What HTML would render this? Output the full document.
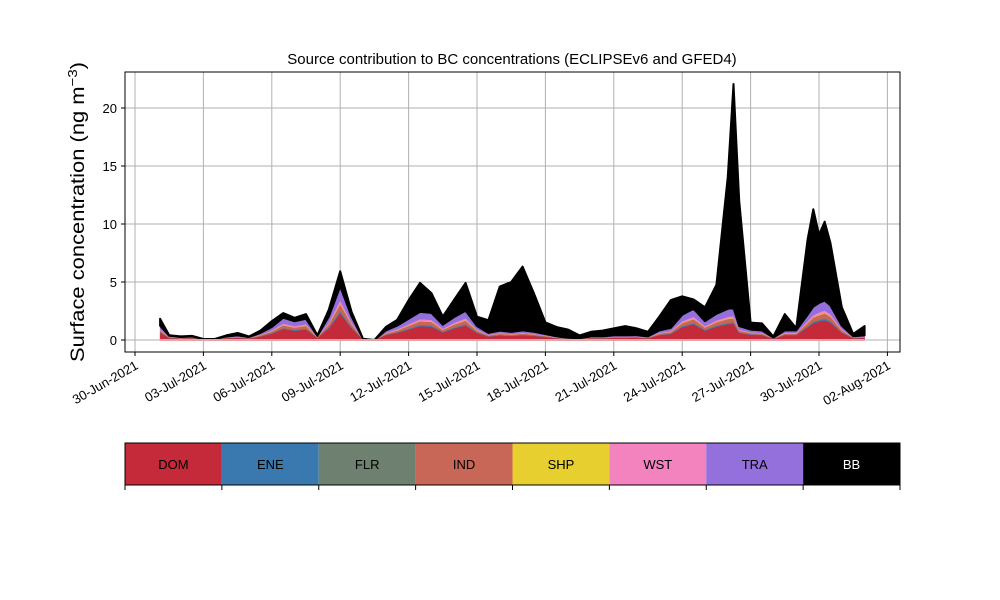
<!DOCTYPE html>
<html><head><meta charset="utf-8"><style>
body{margin:0;background:#fff;}
svg{display:block;font-family:"Liberation Sans","DejaVu Sans",sans-serif;}
</style></head><body>
<svg id="chart" width="1000" height="600" viewBox="0 0 1000 600">
<rect width="1000" height="600" fill="#fff"/>
<g id="grid"></g>
<g id="areas"></g>
<rect x="125" y="72" width="775" height="280" fill="none" stroke="#000" stroke-width="1"/>
<g id="axes"></g>
<text x="512" y="64" text-anchor="middle" font-size="15">Source contribution to BC concentrations (ECLIPSEv6 and GFED4)</text>
<text transform="translate(84,212) rotate(-90)" text-anchor="middle" font-size="19" textLength="300" lengthAdjust="spacingAndGlyphs">Surface concentration (ng m<tspan baseline-shift="super" font-size="13">−3</tspan>)</text>
<g id="legend"></g>
</svg>
<script>
const times=[1.1,1.5,2,2.5,3,3.5,4,4.5,5,5.5,6,6.5,7,7.5,8,8.5,9,9.5,10,10.5,11,11.5,12,12.5,13,13.5,14,14.5,15,15.5,16,16.5,17,17.5,18,18.5,19,19.5,20,20.5,21,21.5,22,22.5,23,23.5,24,24.5,25,25.5,26,26.25,26.5,27,27.5,28,28.5,29,29.5,29.75,30,30.25,30.5,31,31.5,32];
const DOM=[0.62,0.18,0.13,0.16,0.05,0.05,0.16,0.2,0.13,0.3,0.55,0.95,0.8,0.9,0.18,1.0,2.3,1.0,0.05,0,0.42,0.62,0.9,1.2,1.15,0.65,1.0,1.25,0.6,0.3,0.4,0.35,0.42,0.36,0.26,0.15,0.1,0.08,0.16,0.16,0.2,0.2,0.21,0.16,0.42,0.52,1.1,1.35,0.8,1.15,1.35,1.4,0.6,0.45,0.42,0.1,0.42,0.42,1.1,1.45,1.6,1.7,1.5,0.62,0.16,0.2];
const ENE=[0.04,0.01,0.01,0.01,0,0,0.01,0.01,0.01,0.02,0.03,0.05,0.05,0.05,0.01,0.06,0.12,0.06,0,0,0.02,0.04,0.05,0.07,0.07,0.04,0.06,0.07,0.04,0.02,0.02,0.02,0.02,0.02,0.02,0.01,0.01,0,0.01,0.01,0.01,0.01,0.01,0.01,0.02,0.03,0.06,0.08,0.05,0.06,0.08,0.08,0.04,0.03,0.02,0.01,0.02,0.02,0.06,0.08,0.09,0.1,0.09,0.04,0.01,0.01];
const FLR=[0.03,0.01,0.01,0.01,0,0,0.01,0.01,0.01,0.02,0.03,0.05,0.04,0.05,0.01,0.05,0.11,0.05,0,0,0.02,0.03,0.05,0.06,0.06,0.03,0.05,0.06,0.03,0.02,0.02,0.02,0.02,0.02,0.01,0.01,0.01,0,0.01,0.01,0.01,0.01,0.01,0.01,0.02,0.03,0.05,0.07,0.04,0.06,0.07,0.07,0.03,0.02,0.02,0.01,0.02,0.02,0.05,0.07,0.08,0.09,0.08,0.03,0.01,0.01];
const IND=[0.14,0.04,0.03,0.04,0.01,0.01,0.04,0.05,0.03,0.07,0.13,0.23,0.19,0.22,0.04,0.24,0.55,0.24,0.01,0,0.1,0.14,0.22,0.29,0.28,0.16,0.23,0.3,0.14,0.07,0.1,0.08,0.1,0.08,0.06,0.04,0.02,0.02,0.04,0.04,0.05,0.05,0.05,0.04,0.1,0.12,0.25,0.31,0.19,0.26,0.31,0.32,0.14,0.11,0.1,0.02,0.1,0.1,0.25,0.34,0.37,0.4,0.35,0.14,0.04,0.05];
const SHP=[0.02,0.01,0,0,0,0,0,0.01,0,0.01,0.02,0.03,0.02,0.03,0,0.03,0.06,0.03,0,0,0.01,0.02,0.03,0.04,0.04,0.02,0.03,0.04,0.02,0.01,0.01,0.01,0.01,0.01,0.01,0,0,0,0,0,0.01,0.01,0.01,0,0.01,0.02,0.03,0.04,0.02,0.03,0.04,0.04,0.02,0.01,0.01,0,0.01,0.01,0.03,0.04,0.05,0.05,0.04,0.02,0,0.01];
const WST=[0.07,0.02,0.02,0.02,0.01,0.01,0.02,0.02,0.02,0.04,0.07,0.11,0.1,0.11,0.02,0.12,0.28,0.12,0.01,0,0.05,0.07,0.11,0.14,0.14,0.08,0.11,0.15,0.07,0.04,0.05,0.04,0.05,0.04,0.03,0.02,0.01,0.01,0.02,0.02,0.02,0.02,0.02,0.02,0.05,0.06,0.13,0.16,0.1,0.13,0.16,0.16,0.07,0.05,0.05,0.01,0.05,0.05,0.13,0.17,0.19,0.2,0.17,0.07,0.02,0.02];
const TRA=[0.31,0.09,0.06,0.06,0.02,0.02,0.06,0.1,0.05,0.15,0.29,0.5,0.41,0.47,0.09,0.52,1.2,0.52,0.03,0,0.2,0.32,0.47,0.62,0.6,0.34,0.5,0.65,0.31,0.15,0.21,0.18,0.21,0.18,0.13,0.08,0.05,0.04,0.07,0.07,0.1,0.1,0.1,0.07,0.21,0.26,0.55,0.68,0.42,0.57,0.68,0.7,0.31,0.23,0.21,0.05,0.21,0.21,0.55,0.73,0.81,0.86,0.75,0.31,0.08,0.1];
const BB=[0.6,0.05,0.05,0.05,0,0,0.1,0.2,0.05,0.2,0.5,0.4,0.3,0.4,0.05,0.6,1.3,0.4,0,0,0.3,0.5,1.6,2.5,1.7,0.7,1.5,2.4,0.8,1.1,3.8,4.3,5.5,3.3,1.0,0.8,0.7,0.25,0.4,0.5,0.6,0.8,0.6,0.4,1.2,2.4,1.6,0.8,1.2,2.5,11.4,19.3,10.8,0.6,0.6,0.1,1.4,0.2,6.5,8.4,5.9,6.8,5.4,1.6,0.2,0.8];
const yTicks=[0,5,10,15,20];
const xTickDays=[0,3,6,9,12,15,18,21,24,27,30,33];
const xTickLabels=["30-Jun-2021","03-Jul-2021","06-Jul-2021","09-Jul-2021","12-Jul-2021","15-Jul-2021","18-Jul-2021","21-Jul-2021","24-Jul-2021","27-Jul-2021","30-Jul-2021","02-Aug-2021"];
const seriesNames=["DOM","ENE","FLR","IND","SHP","WST","TRA","BB"];
const seriesColors=["#c52a3a","#3a78b0","#6e8070","#c86658","#e6cf2e","#f283bf","#9370db","#000000"];
const seriesData=[DOM,ENE,FLR,IND,SHP,WST,TRA,BB];

const NS="http://www.w3.org/2000/svg";
const X=d=>135+d*22.8;
const Y=v=>340-v*11.6;
function mk(tag,attrs,parent){const e=document.createElementNS(NS,tag);for(const k in attrs)e.setAttribute(k,attrs[k]);parent.appendChild(e);return e;}
const grid=document.getElementById('grid'),axes=document.getElementById('axes'),areas=document.getElementById('areas'),legend=document.getElementById('legend');
yTicks.forEach(v=>{
  const l=mk('line',{x1:125,x2:900,y1:Y(v),y2:Y(v),stroke:'#b0b0b0','stroke-width':1},grid);
  
  
  const t=mk('line',{x1:121,x2:125,y1:Y(v),y2:Y(v),stroke:'#000'},axes);
  
  
  const tx=mk('text',{x:117,y:Y(v)+5,'text-anchor':'end','font-size':13},axes);
  tx.textContent=v;
  
  
});
xTickDays.forEach((d,i)=>{
  const l=mk('line',{x1:X(d),x2:X(d),y1:72,y2:352,stroke:'#b0b0b0','stroke-width':1},grid);
  
  
  const t=mk('line',{x1:X(d),x2:X(d),y1:352,y2:356,stroke:'#000'},axes);
  
  
  const tx=mk('text',{x:0,y:0,'text-anchor':'end','font-size':13,transform:`translate(${X(d)+4},${368}) rotate(-30)`},axes);
  tx.textContent=xTickLabels[i];
  
  
});
let base=times.map(()=>0);
seriesData.forEach((s,k)=>{
  const top=base.map((b,i)=>b+s[i]);
  let d='M'+times.map((t,i)=>X(t).toFixed(1)+','+Y(top[i]).toFixed(1)).join('L');
  for(let i=times.length-1;i>=0;i--)d+='L'+X(times[i]).toFixed(1)+','+Y(base[i]).toFixed(1);
  d+='Z';
  const p=mk('path',{d:d,fill:seriesColors[k],stroke:seriesColors[k],'stroke-width':k===7?2:0.5,'stroke-linejoin':'round'},areas);
  
  
  base=top;
});
const zl=mk('line',{x1:X(times[0]),x2:X(times[times.length-1]),y1:340,y2:340,stroke:'#e8a0a8','stroke-width':2},areas);


const w=775/8;
seriesNames.forEach((n,i)=>{
  const r=mk('rect',{x:125+i*w,y:443,width:w,height:42,fill:seriesColors[i]},legend);
  
  
  const t=mk('text',{x:125+i*w+w/2,y:469,'text-anchor':'middle','font-size':13,fill:n==='BB'?'#fff':'#000'},legend);
  t.textContent=n;
  
  
});
for(let i=0;i<=8;i++){
  const t=mk('line',{x1:125+i*w,x2:125+i*w,y1:485,y2:490,stroke:'#000'},legend);
  
  
}
const fr=mk('rect',{x:125,y:443,width:775,height:42,fill:'none',stroke:'#000'},legend);


</script>
</body></html>
